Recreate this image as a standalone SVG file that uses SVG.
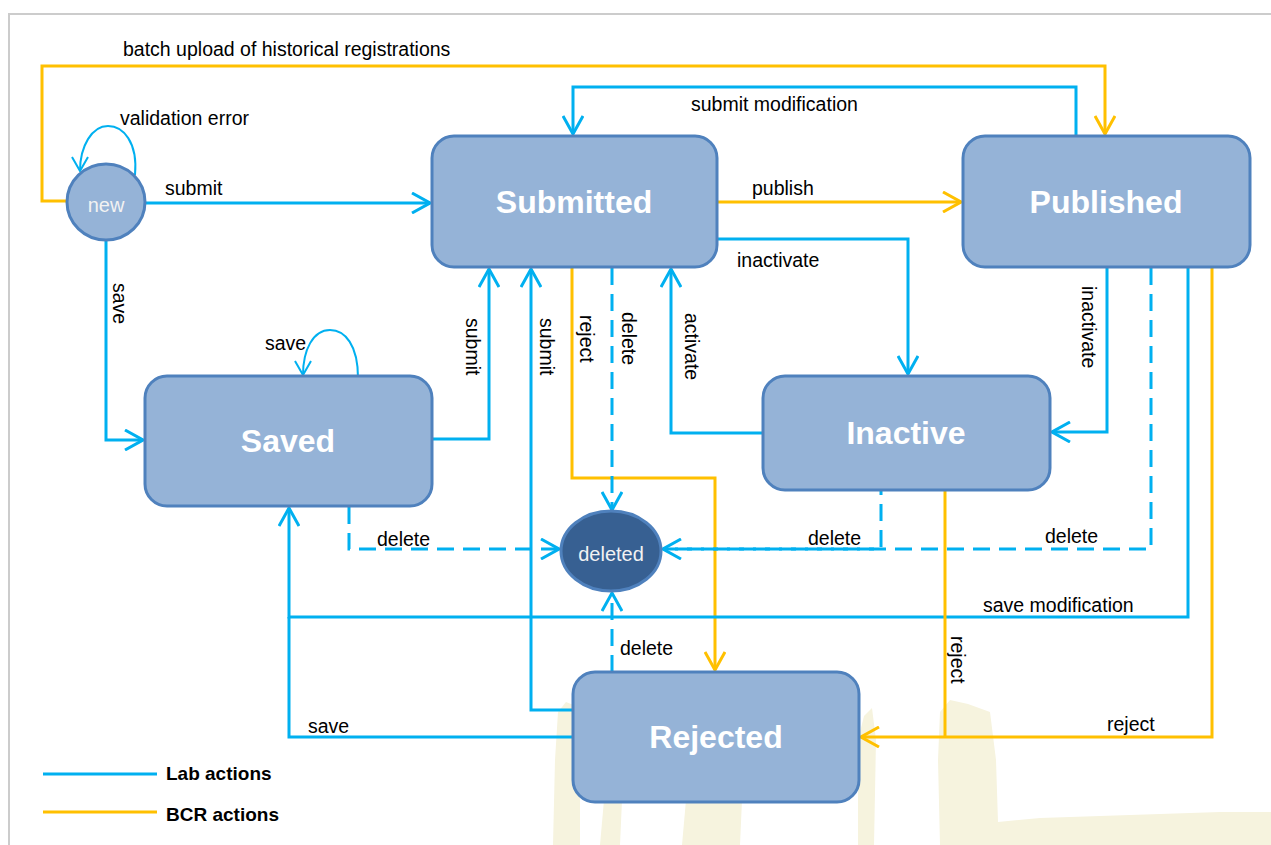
<svg xmlns="http://www.w3.org/2000/svg" width="1271" height="845" viewBox="0 0 1271 845">
<style>
.node{fill:#95B3D7;stroke:#4F81BD;stroke-width:3}
.title{font-family:"Liberation Sans",Arial,sans-serif;font-weight:bold;font-size:32px;fill:#FFFFFF;text-anchor:middle}
.small{font-family:"Liberation Sans",Arial,sans-serif;font-size:20px;fill:#F2F2F2;text-anchor:middle}
.lbl{font-family:"Liberation Sans",Arial,sans-serif;font-size:19.5px;fill:#000000}
.leg{font-family:"Liberation Sans",Arial,sans-serif;font-size:19px;font-weight:bold;fill:#000000}
.b{fill:none;stroke:#00B0F0;stroke-width:3}
.y{fill:none;stroke:#FFC000;stroke-width:3}
.d{stroke-dasharray:17 9}
.thin{fill:none;stroke:#00B0F0;stroke-width:2}
.wm{fill:#F6F3DE}
</style>
<defs>
<marker id="ab" markerUnits="userSpaceOnUse" viewBox="0 0 20 22" refX="19" refY="11" markerWidth="20" markerHeight="22" orient="auto">
<path d="M1,1 L19,11 L1,21" fill="none" stroke="#00B0F0" stroke-width="3"/>
</marker>
<marker id="ay" markerUnits="userSpaceOnUse" viewBox="0 0 20 22" refX="19" refY="11" markerWidth="20" markerHeight="22" orient="auto">
<path d="M1,1 L19,11 L1,21" fill="none" stroke="#FFC000" stroke-width="3"/>
</marker>
<marker id="at" markerUnits="userSpaceOnUse" viewBox="0 0 16 18" refX="15" refY="9" markerWidth="16" markerHeight="18" orient="auto">
<path d="M1,1 L15,9 L1,17" fill="none" stroke="#00B0F0" stroke-width="2"/>
</marker>
</defs>
<rect x="0" y="0" width="1271" height="845" fill="#FFFFFF"/>
<rect x="9" y="14" width="1300" height="900" fill="#FFFFFF" stroke="#CCCCCC" stroke-width="2"/>
<g id="watermark">
<path class="wm" d="M553,845 L555,760 L558,712 L566,702 L576,706 L580,760 L580,845 Z"/>
<path class="wm" d="M600,845 L604,800 L622,800 L620,845 Z"/>
<path class="wm" d="M682,845 L686,800 L742,800 L740,845 Z"/>
<path class="wm" d="M858,845 L858,740 L864,716 L872,708 L876,740 L874,845 Z"/>
<path class="wm" d="M940,845 L938,760 L940,712 L950,700 L968,704 L990,712 L996,760 L998,822 L1040,818 L1100,816 L1160,814 L1220,812 L1271,812 L1271,845 Z"/>
</g>
<g id="connectors">
<path class="y" d="M67,201 H42 V66 H1105 V134" marker-end="url(#ay)"/>
<path class="thin" d="M135,175 C138,142 123,126 108,126 C92,126 80,146 80,171" marker-end="url(#at)"/>
<path class="b" d="M146,203 H430" marker-end="url(#ab)"/>
<path class="b" d="M106,240 V440 H143" marker-end="url(#ab)"/>
<path class="thin" d="M358,378 C358,345 345,330 330,330 C313,330 303,350 303,375" marker-end="url(#at)"/>
<path class="b" d="M432,439 H489 V269" marker-end="url(#ab)"/>
<path class="b" d="M573,710 H531 V269" marker-end="url(#ab)"/>
<path class="y" d="M572,267 V478 H715 V670" marker-end="url(#ay)"/>
<path class="b d" d="M612,268 V510" marker-end="url(#ab)"/>
<path class="b" d="M763,433 H671 V269" marker-end="url(#ab)"/>
<path class="b" d="M717,239 H908 V374" marker-end="url(#ab)"/>
<path class="y" d="M717,202 H961" marker-end="url(#ay)"/>
<path class="b" d="M1076,136 V87 H573 V134" marker-end="url(#ab)"/>
<path class="b" d="M1107,267 V432 H1052" marker-end="url(#ab)"/>
<path class="b d" d="M1151,268 V549 H663" marker-end="url(#ab)"/>
<path class="b d" d="M881,491 V549 H663" style="stroke-dashoffset:13"/>
<path class="b" d="M1188,267 V617 H289 V508" marker-end="url(#ab)"/>
<path class="y" d="M1212,267 V737 H861" marker-end="url(#ay)"/>
<path class="y" d="M945,490 V737"/>
<path class="b d" d="M612,672 V593" marker-end="url(#ab)"/>
<path class="b" d="M573,737 H289 V617"/>
<path class="b d" d="M349,507 V549 H559" marker-end="url(#ab)"/>
</g>
<g id="labels">
<text class="lbl" x="123" y="56">batch upload of historical registrations</text>
<text class="lbl" x="120" y="125">validation error</text>
<text class="lbl" x="165" y="195">submit</text>
<text class="lbl" x="691" y="111">submit modification</text>
<text class="lbl" x="752" y="195">publish</text>
<text class="lbl" x="737" y="267">inactivate</text>
<text class="lbl" x="265" y="350">save</text>
<text class="lbl" x="377" y="546">delete</text>
<text class="lbl" x="808" y="545">delete</text>
<text class="lbl" x="1045" y="543">delete</text>
<text class="lbl" x="983" y="612">save modification</text>
<text class="lbl" x="620" y="655">delete</text>
<text class="lbl" x="308" y="733">save</text>
<text class="lbl" x="1107" y="731">reject</text>
<text class="lbl" transform="translate(113,283) rotate(90)">save</text>
<text class="lbl" transform="translate(466,318) rotate(90)">submit</text>
<text class="lbl" transform="translate(540,318) rotate(90)">submit</text>
<text class="lbl" transform="translate(580,315) rotate(90)">reject</text>
<text class="lbl" transform="translate(622,312) rotate(90)">delete</text>
<text class="lbl" transform="translate(685,313) rotate(90)">activate</text>
<text class="lbl" transform="translate(1082,286) rotate(90)">inactivate</text>
<text class="lbl" transform="translate(951,636) rotate(90)">reject</text>
</g>
<g id="new">
<ellipse class="node" cx="106" cy="202" rx="39" ry="38"/>
<text class="small" x="106" y="212">new</text>
</g>
<g id="submitted">
<rect class="node" x="432" y="136" width="285" height="131" rx="22"/>
<text class="title" x="574" y="213">Submitted</text>
</g>
<g id="published">
<rect class="node" x="963" y="136" width="287" height="131" rx="22"/>
<text class="title" x="1106" y="213">Published</text>
</g>
<g id="saved">
<rect class="node" x="145" y="376" width="287" height="130" rx="22"/>
<text class="title" x="288" y="452">Saved</text>
</g>
<g id="inactive">
<rect class="node" x="763" y="376" width="287" height="114" rx="22"/>
<text class="title" x="906" y="444">Inactive</text>
</g>
<g id="deleted">
<ellipse cx="611" cy="551" rx="50" ry="40" fill="#376092" stroke="#4F81BD" stroke-width="3"/>
<text class="small" x="611" y="561">deleted</text>
</g>
<g id="rejected">
<rect class="node" x="573" y="672" width="286" height="130" rx="22"/>
<text class="title" x="716" y="748">Rejected</text>
</g>
<g id="legend">
<line x1="43" y1="774" x2="157" y2="774" stroke="#00B0F0" stroke-width="3"/>
<text class="leg" x="166" y="780">Lab actions</text>
<line x1="43" y1="812" x2="157" y2="812" stroke="#FFC000" stroke-width="3"/>
<text class="leg" x="166" y="821">BCR actions</text>
</g>
</svg>
